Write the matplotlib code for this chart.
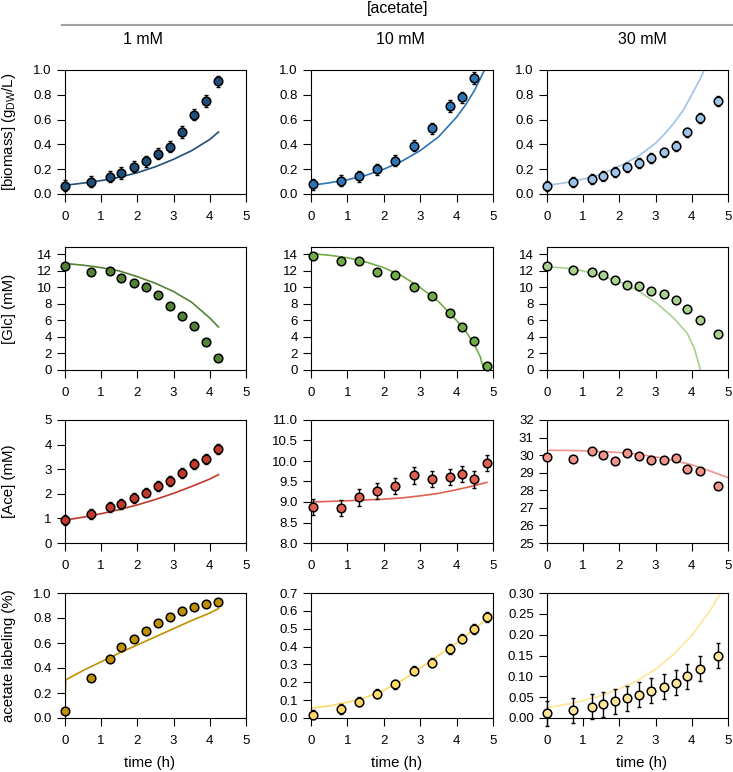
import numpy as np
import matplotlib.pyplot as plt

plt.rcParams['font.family'] = ['Liberation Sans', 'DejaVu Sans']
plt.rcParams['mathtext.fontset'] = 'custom'
plt.rcParams['mathtext.rm'] = 'Liberation Sans'

W, H = 733, 772

# sampling times (h)
t_1mM = [0, 0.73, 1.24, 1.56, 1.90, 2.23, 2.56, 2.89, 3.23, 3.56, 3.90, 4.24]
t_10mM = [0.06, 0.82, 1.32, 1.82, 2.32, 2.82, 3.32, 3.83, 4.16, 4.49, 4.83]
t_30mM = [0, 0.72, 1.23, 1.56, 1.89, 2.22, 2.55, 2.88, 3.22, 3.55, 3.88, 4.22, 4.72]

# biomass (gDW/L)
bio_1 = [0.067, 0.10, 0.14, 0.17, 0.22, 0.265, 0.325, 0.38, 0.50, 0.64, 0.75, 0.91]
bio_1_sd = [0.045] * 12
bio_10 = [0.08, 0.107, 0.142, 0.20, 0.27, 0.39, 0.53, 0.71, 0.78, 0.935]
bio_10_sd = [0.045] * 10
bio_30 = [0.067, 0.094, 0.12, 0.142, 0.177, 0.214, 0.25, 0.29, 0.335, 0.39, 0.496, 0.61, 0.753]
bio_30_sd = [0.04] * 13

# glucose (mM)
glc_1 = [12.63, 11.9, 11.95, 11.2, 10.5, 10.0, 9.05, 7.8, 6.56, 5.3, 3.42, 1.45]
glc_10 = [13.8, 13.23, 13.15, 11.83, 11.54, 10.1, 8.93, 6.92, 5.15, 3.54, 0.44]
glc_30 = [12.63, 12.07, 11.87, 11.46, 10.9, 10.3, 10.18, 9.61, 9.25, 8.49, 7.36, 6.11, 4.34]

# acetate (mM)
ace_1 = [0.92, 1.18, 1.45, 1.58, 1.82, 2.05, 2.32, 2.53, 2.84, 3.2, 3.42, 3.81]
ace_1_sd = [0.2] * 12
ace_10 = [8.88, 8.85, 9.11, 9.27, 9.39, 9.65, 9.56, 9.61, 9.68, 9.55, 9.95]
ace_10_sd = [0.2] * 11
ace_30 = [29.92, 29.77, 30.24, 30.0, 29.68, 30.11, 29.94, 29.71, 29.73, 29.84, 29.22, 29.07, 28.22]

# acetate labeling
lab_1 = [0.056, 0.32, 0.475, 0.566, 0.635, 0.70, 0.761, 0.807, 0.853, 0.885, 0.914, 0.93]
lab_10 = [0.019, 0.051, 0.092, 0.137, 0.188, 0.266, 0.31, 0.387, 0.445, 0.50, 0.565]
lab_10_sd = [0.027] * 11
lab_30 = [0.011, 0.0185, 0.027, 0.033, 0.040, 0.047, 0.056, 0.066, 0.075, 0.085, 0.10, 0.118, 0.149]
lab_30_sd = [0.03] * 13

# model simulations
fit_t = [0, 0.5, 1, 1.5, 2, 2.5, 3, 3.5, 4, 4.5, 5]
bio_1_fit_t = [0, 0.5, 1, 1.5, 2, 2.5, 3, 3.5, 4, 4.24]
bio_1_fit = [0.07, 0.088, 0.108, 0.135, 0.172, 0.22, 0.28, 0.35, 0.44, 0.50]
bio_10_fit_t = [0, 0.5, 1, 1.5, 2, 2.5, 3, 3.5, 4, 4.25, 4.5, 4.75, 5]
bio_10_fit = [0.07, 0.09, 0.115, 0.15, 0.20, 0.265, 0.35, 0.46, 0.62, 0.72, 0.84, 0.99, 1.12]
bio_30_fit_t = [0, 0.5, 1, 1.5, 2, 2.5, 3, 3.25, 3.5, 3.75, 4, 4.25, 4.5]
bio_30_fit = [0.07, 0.09, 0.12, 0.16, 0.225, 0.30, 0.41, 0.485, 0.57, 0.67, 0.80, 0.94, 1.1]
glc_1_fit = [12.9, 12.7, 12.4, 12.0, 11.3, 10.5, 9.5, 8.2, 6.3, 5.2]
glc_10_fit_t = [0, 0.5, 1, 1.5, 2, 2.5, 3, 3.5, 4, 4.25, 4.5, 4.65, 4.75]
glc_10_fit = [14.1, 13.9, 13.6, 13.1, 12.4, 11.4, 10.0, 8.3, 6.0, 4.7, 3.0, 1.6, 0.0]
glc_30_fit_t = [0, 0.5, 1, 1.5, 2, 2.5, 3, 3.5, 3.88, 4.07, 4.24]
glc_30_fit = [12.5, 12.35, 12.0, 11.45, 10.7, 9.65, 8.2, 6.3, 4.4, 2.6, 0.0]
ace_1_fit = [0.93, 1.05, 1.19, 1.36, 1.55, 1.77, 2.02, 2.3, 2.6, 2.78]
ace_10_fit_t = [0, 1, 2, 2.5, 3, 3.5, 4, 4.5, 4.83]
ace_10_fit = [9.0, 9.03, 9.07, 9.1, 9.15, 9.21, 9.3, 9.4, 9.48]
ace_30_fit = [30.28, 30.27, 30.25, 30.2, 30.15, 30.05, 29.9, 29.7, 29.45, 29.1, 28.72]
lab_1_fit_t = [0, 0.02, 0.5, 1, 1.5, 2, 2.5, 3, 3.5, 4, 4.24]
lab_1_fit = [0.055, 0.305, 0.38, 0.45, 0.52, 0.585, 0.65, 0.715, 0.78, 0.84, 0.875]
lab_10_fit = [0.055, 0.068, 0.088, 0.115, 0.155, 0.21, 0.28, 0.35, 0.42, 0.50, 0.585]
lab_30_fit = [0.025, 0.032, 0.042, 0.054, 0.07, 0.09, 0.117, 0.153, 0.198, 0.257, 0.33]

col_bio = ['#1f4e79', '#2e75b6', '#9dc3e6']
col_glc = ['#548235', '#70ad47', '#a9d18e']
col_ace = ['#c0392b', '#e0604f', '#f1948a']
col_lab = ['#bf9000', '#ffd966', '#ffe699']

# box positions in pixels
col_x = [(65, 246), (311, 493), (547, 728)]
row_y = [(70, 194), (247, 370), (420, 543), (593, 718)]

fig = plt.figure(figsize=(W / 100, H / 100), dpi=100)


def panel(r, c, t, y, sd, ft, fy, color, ylim, yticks, fmt):
    x0, x1 = col_x[c]
    y0, y1 = row_y[r]
    ax = fig.add_axes([x0 / W, 1 - y1 / H, (x1 - x0) / W, (y1 - y0) / H])
    ax.plot(ft, fy, color=color, lw=1.2, zorder=2)
    if sd is not None:
        ax.errorbar(t, y, yerr=sd, fmt='none', ecolor='black', elinewidth=1.0,
                    capsize=1.5, capthick=1.0, zorder=3, clip_on=False)
    ax.plot(t, y, 'o', ms=6.2, mfc=color, mec='black', mew=1.1, zorder=4, clip_on=False)
    ax.set_xlim(0, 5)
    ax.set_ylim(*ylim)
    ax.set_xticks(range(6))
    ax.set_yticks(yticks)
    ax.set_yticklabels([fmt.format(v) for v in yticks])
    ax.tick_params(direction='out', length=6, width=0.8, labelsize=9.5, color='black')
    ax.tick_params(axis='x', pad=6)
    ax.tick_params(axis='y', pad=3.5)
    for s in ax.spines.values():
        s.set_linewidth(0.8)
    return ax


panel(0, 0, t_1mM, bio_1, bio_1_sd, bio_1_fit_t, bio_1_fit, col_bio[0], (0, 1), np.arange(0, 1.01, 0.2), '{:.1f}')
panel(0, 1, t_10mM[:10], bio_10, bio_10_sd, bio_10_fit_t, bio_10_fit, col_bio[1], (0, 1), np.arange(0, 1.01, 0.2), '{:.1f}')
panel(0, 2, t_30mM, bio_30, bio_30_sd, bio_30_fit_t, bio_30_fit, col_bio[2], (0, 1), np.arange(0, 1.01, 0.2), '{:.1f}')

panel(1, 0, t_1mM, glc_1, None, bio_1_fit_t, glc_1_fit, col_glc[0], (0, 14.9), range(0, 15, 2), '{:d}')
panel(1, 1, t_10mM, glc_10, None, glc_10_fit_t, glc_10_fit, col_glc[1], (0, 14.9), range(0, 15, 2), '{:d}')
panel(1, 2, t_30mM, glc_30, None, glc_30_fit_t, glc_30_fit, col_glc[2], (0, 14.9), range(0, 15, 2), '{:d}')

panel(2, 0, t_1mM, ace_1, ace_1_sd, bio_1_fit_t, ace_1_fit, col_ace[0], (0, 5), range(0, 6), '{:d}')
panel(2, 1, t_10mM, ace_10, ace_10_sd, ace_10_fit_t, ace_10_fit, col_ace[1], (8, 11), np.arange(8, 11.01, 0.5), '{:.1f}')
panel(2, 2, t_30mM, ace_30, None, fit_t, ace_30_fit, col_ace[2], (25, 32), range(25, 33), '{:d}')

panel(3, 0, t_1mM, lab_1, None, lab_1_fit_t, lab_1_fit, col_lab[0], (0, 1), np.arange(0, 1.01, 0.2), '{:.1f}')
panel(3, 1, t_10mM, lab_10, lab_10_sd, fit_t, lab_10_fit, col_lab[1], (0, 0.7), np.arange(0, 0.71, 0.1), '{:.1f}')
panel(3, 2, t_30mM, lab_30, lab_30_sd, fit_t, lab_30_fit, col_lab[2], (0, 0.3), np.arange(0, 0.301, 0.05), '{:.2f}')

# headers
fig.text(398 / W, 1 - 9 / H, '[acetate]', ha='center', va='center', fontsize=11.5)
fig.add_artist(plt.Line2D([62 / W, 1], [1 - 25 / H, 1 - 25 / H], color='#a0a0a0', lw=1.5))
for xc, s in zip([143, 400, 642], ['1 mM', '10 mM', '30 mM']):
    fig.text(xc / W, 1 - 40 / H, s, ha='center', va='center', fontsize=11.5)

ylabels = [r'[biomass] (g$_{\mathrm{DW}}$/L)', '[Glc] (mM)', '[Ace] (mM)', 'acetate labeling (%)']
for (y0, y1), s in zip(row_y, ylabels):
    fig.text(9 / W, 1 - (y0 + y1) / 2 / H, s, rotation=90, ha='center', va='center', fontsize=10.8)
for xc in [150, 397, 642]:
    fig.text(xc / W, 1 - 763 / H, 'time (h)', ha='center', va='center', fontsize=10.8)

fig.savefig('out.png', dpi=100)
